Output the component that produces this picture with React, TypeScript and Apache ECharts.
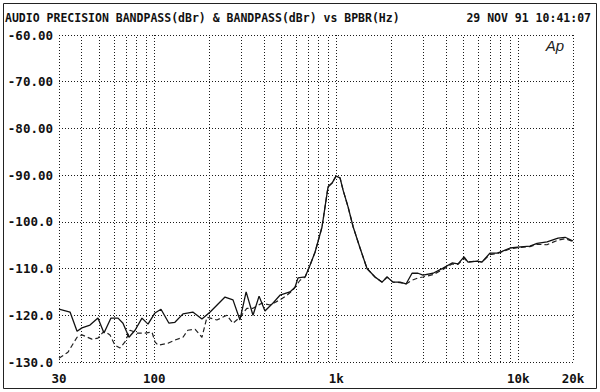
import React, { useEffect, useRef } from 'react';
import * as echarts from 'echarts';

const titleText = 'AUDIO PRECISION BANDPASS(dBr) & BANDPASS(dBr) vs BPBR(Hz)';
const dateText = '29 NOV 91 10:41:07';
const logoText = 'Ap';

const xTickLabels: Record<number, string> = { 30: '30', 100: '100', 1000: '1k', 10000: '10k', 20000: '20k' };
const minorGridFreqs = [40, 50, 60, 70, 80, 90, 200, 300, 400, 500, 600, 700, 800, 900, 2000, 3000, 4000, 5000, 6000, 7000, 8000, 9000];
const yMin = -130;
const yMax = -60;
const yStep = 10;
const xMin = 30;
const xMax = 20000;

// [frequency Hz, level dBr]
const solidSeries: [number, number][] = [
  [30, -118.7], [34.5, -119.3], [37.7, -123.4], [40.1, -122.7], [44.4, -122.1], [49.1, -120.6],
  [53, -123.8], [57.9, -120.6], [63.3, -120.6], [67.4, -121.7], [72.7, -124.7], [78.5, -123.2],
  [85.7, -120.6], [92.5, -121.9], [101, -119.5], [109, -118.7], [120.6, -121.7], [130, -121.5],
  [144, -119.7], [163, -119.3], [183, -120.8], [203, -119.3], [245, -116.1], [271, -116.7],
  [296, -121], [320, -115], [349, -120], [377, -115.9], [406, -119.1], [444, -117.6],
  [491, -115.7], [557, -115], [594, -114], [617, -112], [675, -111.8], [718, -109.3],
  [765, -106.5], [836, -101.1], [902, -92.5], [949, -91.7], [998, -90.2], [1050, -90.6],
  [1091, -93.2], [1162, -96.8], [1240, -101.1], [1352, -105.6], [1477, -110], [1634, -111.8],
  [1786, -112.9], [1903, -111.8], [2052, -112.9], [2243, -112.9], [2420, -113.3], [2610, -111],
  [2816, -111], [3000, -111.4], [3405, -111], [3865, -109.9], [4330, -108.8], [4670, -109],
  [5040, -107.5], [5300, -108.6], [5940, -108.4], [6330, -108.6], [6990, -106.7], [7660, -106.7],
  [8150, -106.3], [9020, -105.6], [9960, -105.4], [11600, -105.2], [12700, -104.6], [14400, -104.3],
  [16550, -103.5], [18100, -103.3], [20000, -104.1],
];

const dashedSeries: [number, number][] = [
  [30, -129.2], [33.6, -127.9], [37.7, -124.7], [40.1, -124.2], [45.5, -125.1], [49.1, -124.9],
  [53, -123.4], [57.2, -124.2], [60.9, -126.4], [64.9, -127], [69.1, -125.7], [73.7, -123.2],
  [80.5, -123.8], [89, -123.8], [97.3, -123.6], [101, -125.7], [105, -126.4], [119, -126],
  [130, -125.3], [144, -124.7], [153, -123.2], [168, -123], [183, -124.7], [195, -120.4],
  [221, -121], [251, -120], [271, -121.7], [296, -120.4], [323, -118.5], [349, -118.5],
  [391, -117.4], [433, -117.8], [491, -116.7], [537, -115.7], [579, -114.6], [633, -112.5],
  [675, -111.8], [718, -109.3], [765, -106.5], [836, -101.1], [902, -92.5], [949, -91.7],
  [998, -90.2], [1050, -90.6], [1091, -93.2], [1162, -96.8], [1240, -101.1], [1352, -105.6],
  [1477, -110], [1634, -111.8], [1786, -112.9], [1903, -111.8], [2052, -112.9], [2243, -113],
  [2420, -113.3], [2610, -112.5], [2816, -112], [3000, -111.8], [3405, -111.3], [3865, -110.2],
  [4330, -109], [4670, -109.1], [5040, -107.8], [5300, -108.6], [5940, -108.4], [6330, -108.6],
  [6990, -107], [7660, -106.8], [8150, -106.4], [9020, -105.8], [9960, -105.5], [11600, -105.3],
  [12700, -104.8], [14400, -104.9], [16550, -103.9], [18100, -103.6], [20000, -104.2],
];

const MONO = '"DejaVu Sans Mono", "Liberation Mono", monospace';

export default function App() {
  const ref = useRef<HTMLDivElement>(null);
  useEffect(() => {
    if (!ref.current) return;
    const chart = echarts.init(ref.current, null, { renderer: 'svg' });
    const dotted = { color: '#1a1a1a', width: 1, type: [1, 2] as number[] };
    chart.setOption({
      animation: false,
      backgroundColor: '#ffffff',
      grid: { left: 59, right: 27, top: 35, bottom: 30 },
      xAxis: {
        type: 'log',
        logBase: 10,
        min: xMin,
        max: xMax,
        axisLine: { show: false },
        axisTick: { show: false },
        splitLine: { show: true, lineStyle: dotted },
        axisLabel: {
          formatter: (v: number) => xTickLabels[Math.round(v)] ?? '',
          fontFamily: MONO,
          fontWeight: 'bold',
          fontSize: 12.5,
          color: '#111',
          margin: 10,
          showMinLabel: true,
          showMaxLabel: true,
          hideOverlap: false,
        },
      },
      yAxis: {
        type: 'value',
        min: yMin,
        max: yMax,
        interval: yStep,
        axisLine: { show: false },
        axisTick: { show: false },
        splitLine: { show: true, lineStyle: dotted },
        axisLabel: {
          formatter: (v: number) => v.toPrecision(4),
          fontFamily: MONO,
          fontWeight: 'bold',
          fontSize: 12.5,
          color: '#111',
          margin: 6,
        },
      },
      graphic: [
        {
          type: 'rect',
          shape: { x: 3.5, y: 3.5, width: 593, height: 385 },
          style: { fill: 'none', stroke: '#222', lineWidth: 1 },
          silent: true,
        },
        {
          type: 'text',
          x: 5,
          y: 18,
          style: {
            text: titleText,
            font: `bold 11.5px ${MONO}`,
            fill: '#111',
            align: 'left',
            verticalAlign: 'middle',
            textAlign: 'left',
            textVerticalAlign: 'middle',
          },
        },
        {
          type: 'text',
          x: 591,
          y: 18,
          style: {
            text: dateText,
            font: `bold 11.5px ${MONO}`,
            fill: '#111',
            align: 'right',
            verticalAlign: 'middle',
            textAlign: 'right',
            textVerticalAlign: 'middle',
          },
        },
        {
          type: 'text',
          x: 555,
          y: 45,
          style: {
            text: logoText,
            font: 'italic 15px "Liberation Sans", "DejaVu Sans", sans-serif',
            fill: '#222',
            align: 'center',
            verticalAlign: 'middle',
            textAlign: 'center',
            textVerticalAlign: 'middle',
          },
        },
      ],
      series: [
        {
          type: 'line',
          data: dashedSeries,
          showSymbol: false,
          symbol: 'none',
          lineStyle: { color: '#222', width: 1.2, type: [5, 3] },
          z: 3,
        },
        {
          type: 'line',
          data: solidSeries,
          showSymbol: false,
          symbol: 'none',
          lineStyle: { color: '#111', width: 1.3, type: 'solid' },
          z: 4,
          markLine: {
            silent: true,
            symbol: ['none', 'none'],
            label: { show: false },
            lineStyle: dotted,
            animation: false,
            data: minorGridFreqs.map((f) => ({ xAxis: f })),
          },
        },
      ],
    });
    return () => chart.dispose();
  }, []);
  return <div ref={ref} style={{ position: 'fixed', left: 0, top: 0, width: 600, height: 392 }} />;
}
